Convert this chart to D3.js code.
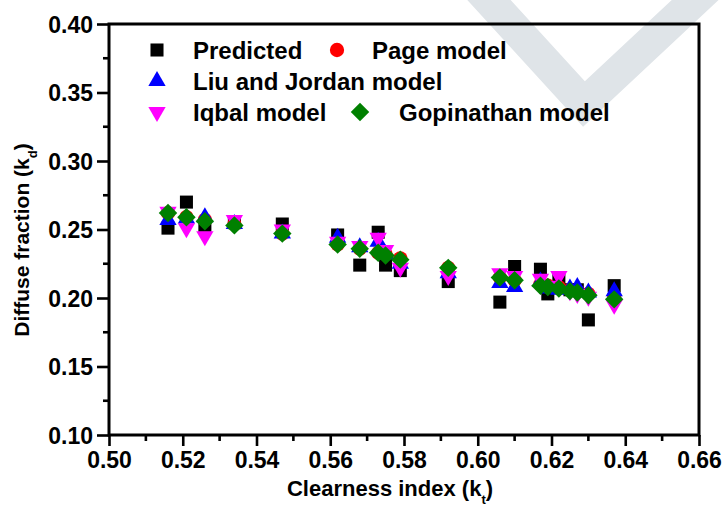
<!DOCTYPE html>
<html>
<head>
<meta charset="utf-8">
<script src="https://cdn.jsdelivr.net/npm/d3@7"></script>
<style>
  body { margin: 0; background: #fff; }
  svg text { font-family: "Liberation Sans", Arial, sans-serif; font-weight: bold; fill: #000; }
</style>
</head>
<body>
<svg id="chart" width="726" height="505"></svg>
<script>
// clearness index (x) for each month/point
const clearness = [0.516, 0.521, 0.526, 0.534, 0.547, 0.562, 0.568, 0.573, 0.575, 0.579,
  0.592, 0.606, 0.610, 0.617, 0.619, 0.622, 0.625, 0.627, 0.630, 0.637];

const predicted = [0.251, 0.270, 0.253, 0.255, 0.254, 0.246, 0.224, 0.248, 0.224, 0.220,
  0.212, 0.197, 0.223, 0.221, 0.203, 0.213, 0.206, 0.206, 0.184, 0.209];
const pageModel = [0.262, 0.259, 0.257, 0.254, 0.247, 0.239, 0.236, 0.233, 0.232, 0.229,
  0.222, 0.215, 0.213, 0.210, 0.209, 0.208, 0.206, 0.205, 0.203, 0.201];
const liuJordan = [0.257, 0.258, 0.259, 0.254, 0.247, 0.244, 0.237, 0.241, 0.232, 0.225,
  0.218, 0.211, 0.208, 0.212, 0.207, 0.206, 0.207, 0.208, 0.204, 0.205];
const iqbal = [0.263, 0.251, 0.245, 0.257, 0.250, 0.241, 0.238, 0.244, 0.235, 0.222,
  0.216, 0.218, 0.216, 0.214, 0.209, 0.216, 0.205, 0.203, 0.201, 0.195];
const gopinathan = [0.262, 0.259, 0.256, 0.253, 0.247, 0.239, 0.236, 0.233, 0.231, 0.228,
  0.222, 0.215, 0.213, 0.209, 0.208, 0.207, 0.205, 0.204, 0.202, 0.199];

const xTicks = [0.50, 0.52, 0.54, 0.56, 0.58, 0.60, 0.62, 0.64, 0.66];
const yTicks = [0.10, 0.15, 0.20, 0.25, 0.30, 0.35, 0.40];

const series = [
  {name: 'Predicted', values: predicted, color: '#000000', shape: 'square'},
  {name: 'Page model', values: pageModel, color: '#ff0000', shape: 'circle'},
  {name: 'Liu and Jordan model', values: liuJordan, color: '#0000ff', shape: 'up'},
  {name: 'Iqbal model', values: iqbal, color: '#ff00ff', shape: 'down'},
  {name: 'Gopinathan model', values: gopinathan, color: '#008000', shape: 'diamond'}
];

const margin = {top: 24, left: 109, right: 27, bottom: 70};
const width = 726, height = 505;

const x = d3.scaleLinear().domain([0.50, 0.66]).range([margin.left, width - margin.right]);
const y = d3.scaleLinear().domain([0.10, 0.40]).range([height - margin.bottom, margin.top]);

const svg = d3.select('#chart');

// light grey watermark chevron behind the plot
svg.append('path')
  .attr('d', d3.line()([[478, -12], [584, 104], [708, -12]]))
  .attr('fill', 'none')
  .attr('stroke', '#dfe4e8')
  .attr('stroke-width', 32);

function marker(shape) {
  switch (shape) {
    case 'square': return {path: d3.symbol(d3.symbolSquare, 170)(), rot: 0};
    case 'circle': return {path: d3.symbol(d3.symbolCircle, 160)(), rot: 0};
    case 'up': return {path: d3.symbol(d3.symbolTriangle, 130)(), rot: 0};
    case 'down': return {path: d3.symbol(d3.symbolTriangle, 130)(), rot: 180};
    case 'diamond': return {path: d3.symbol(d3.symbolSquare, 170)(), rot: 45};
  }
}

// data points
series.forEach(s => {
  const m = marker(s.shape);
  svg.append('g')
    .selectAll('path')
    .data(s.values)
    .join('path')
    .attr('d', m.path)
    .attr('fill', s.color)
    .attr('transform', (d, i) => `translate(${x(clearness[i])},${y(d)}) rotate(${m.rot})`);
});

// axes
const plotBottom = height - margin.bottom;
const xAxis = svg.append('g').attr('transform', `translate(0,${plotBottom})`)
  .call(d3.axisBottom(x).tickValues(xTicks).tickFormat(d3.format('.2f')).tickSizeInner(11).tickSizeOuter(0).tickPadding(6));
xAxis.append('g').selectAll('line')
  .data(d3.range(0.51, 0.66, 0.02))
  .join('line')
  .attr('x1', d => x(d)).attr('x2', d => x(d))
  .attr('y1', 0).attr('y2', 6);

const yAxis = svg.append('g').attr('transform', `translate(${margin.left},0)`)
  .call(d3.axisLeft(y).tickValues(yTicks).tickFormat(d3.format('.2f')).tickSizeInner(12).tickSizeOuter(0).tickPadding(4));
yAxis.append('g').selectAll('line')
  .data(d3.range(0.125, 0.40, 0.05))
  .join('line')
  .attr('x1', 0).attr('x2', -6)
  .attr('y1', d => y(d)).attr('y2', d => y(d));

[xAxis, yAxis].forEach(a => {
  a.select('.domain').remove();
  a.selectAll('line').attr('stroke', '#000').attr('stroke-width', 2.6);
  a.selectAll('text').style('font-size', '23px').attr('fill', '#000');
});
yAxis.selectAll('.tick text').attr('dy', '0.36em');

// frame
svg.append('rect')
  .attr('x', margin.left).attr('y', margin.top)
  .attr('width', width - margin.left - margin.right)
  .attr('height', plotBottom - margin.top)
  .attr('fill', 'none').attr('stroke', '#000').attr('stroke-width', 3);

// axis titles
const xt = svg.append('text').attr('x', 390).attr('y', 496).attr('text-anchor', 'middle').style('font-size', '22px');
xt.append('tspan').text('Clearness index (k');
xt.append('tspan').attr('baseline-shift', 'sub').style('font-size', '13px').text('t');
xt.append('tspan').text(')');

const yt = svg.append('text').attr('transform', 'translate(29,240) rotate(-90)').attr('text-anchor', 'middle').style('font-size', '21px');
yt.append('tspan').text('Diffuse fraction (k');
yt.append('tspan').attr('baseline-shift', 'sub').style('font-size', '13px').text('d');
yt.append('tspan').text(')');

// legend
const legendItems = [
  {s: series[0], mx: 157, my: 50, tx: 193},
  {s: series[1], mx: 337, my: 50, tx: 372},
  {s: series[2], mx: 157, my: 81, tx: 193},
  {s: series[3], mx: 157, my: 112, tx: 193},
  {s: series[4], mx: 360, my: 112, tx: 399}
];
const legend = svg.append('g');
legendItems.forEach(it => {
  const m = marker(it.s.shape);
  legend.append('path').attr('d', m.path).attr('fill', it.s.color)
    .attr('transform', `translate(${it.mx},${it.my}) rotate(${m.rot})`);
  legend.append('text').attr('x', it.tx).attr('y', it.my).attr('dy', '0.36em')
    .style('font-size', '24px').text(it.s.name);
});
</script>
</body>
</html>
